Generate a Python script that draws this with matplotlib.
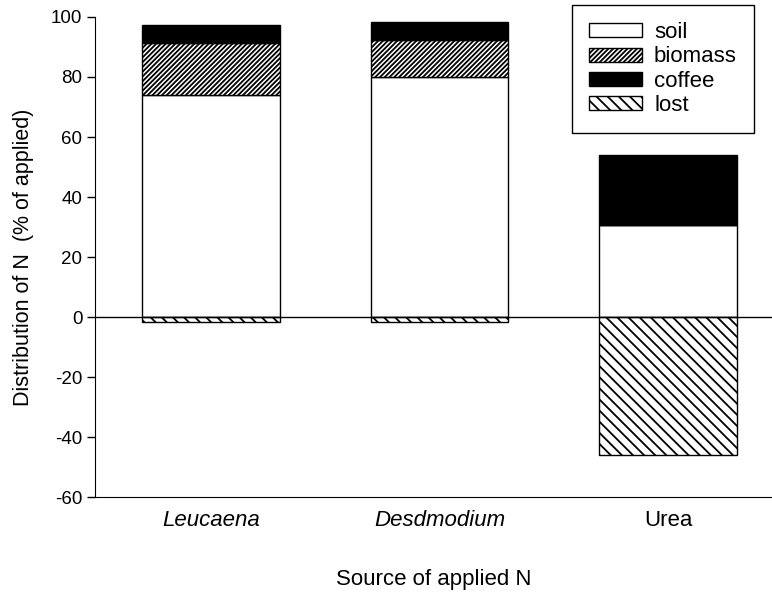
import numpy as np
from matplotlib import pyplot as plt

plt.rcParams['font.family'] = ['Liberation Sans', 'DejaVu Sans']
plt.rcParams['hatch.linewidth'] = 1.3
plt.rcParams['axes.unicode_minus'] = False

# data (% of applied N)
sources = ["Leucaena", "Desdmodium", "Urea"]
soil = [74, 80, 30.7]
biomass = [17.3, 12.2, 0]
coffee = [6.1, 6.0, 23.2]
lost = [-1.8, -1.8, -46]

x = np.arange(len(sources))
w = 0.60

fig = plt.figure(figsize=(7.72, 5.96), dpi=100)
ax = fig.add_axes([0.123, 0.166, 0.877, 0.8055])

soil = np.array(soil)
biomass = np.array(biomass)
coffee = np.array(coffee)

ax.bar(x, soil, w, color="white", edgecolor="black", linewidth=1, label="soil")
ax.bar(x, biomass, w, bottom=soil, color="white", edgecolor="black", linewidth=1,
       hatch="///////", label="biomass")
ax.bar(x, coffee, w, bottom=soil + biomass, color="black", edgecolor="black",
       linewidth=1, label="coffee")
ax.bar(x, lost, w, color="white", edgecolor="black", linewidth=1, hatch="\\\\\\",
       label="lost")

ax.axhline(0, color="black", linewidth=1)

#Formatting the plot
ax.set_ylim(-60, 100)
ax.set_xlim(-0.508, 2.455)
ax.set_yticks(np.arange(-60, 101, 20))
ax.tick_params(axis="y", direction="out", length=6, width=1, labelsize=13.5, pad=3)
ax.tick_params(axis="x", length=0, pad=9)
ax.set_xticks(x)
ax.set_xticklabels(sources, fontsize=16)
for lbl in ax.get_xticklabels()[:2]:
    lbl.set_style("italic")

ax.spines["top"].set_visible(False)
ax.spines["right"].set_visible(False)

ax.set_ylabel("Distribution of N  (% of applied)", fontsize=15.5, labelpad=12)
ax.set_xlabel("Source of applied N", fontsize=16, labelpad=28)

leg = ax.legend(loc="upper right", bbox_to_anchor=(0.977, 0.992),
                bbox_transform=fig.transFigure, fontsize=16, fancybox=False,
                edgecolor="black", framealpha=1, handlelength=2.36,
                handleheight=0.58, labelspacing=0.15, borderpad=0.78,
                handletextpad=0.55, borderaxespad=0)
leg.get_frame().set_linewidth(1)

plt.savefig("out.png", dpi=100)
